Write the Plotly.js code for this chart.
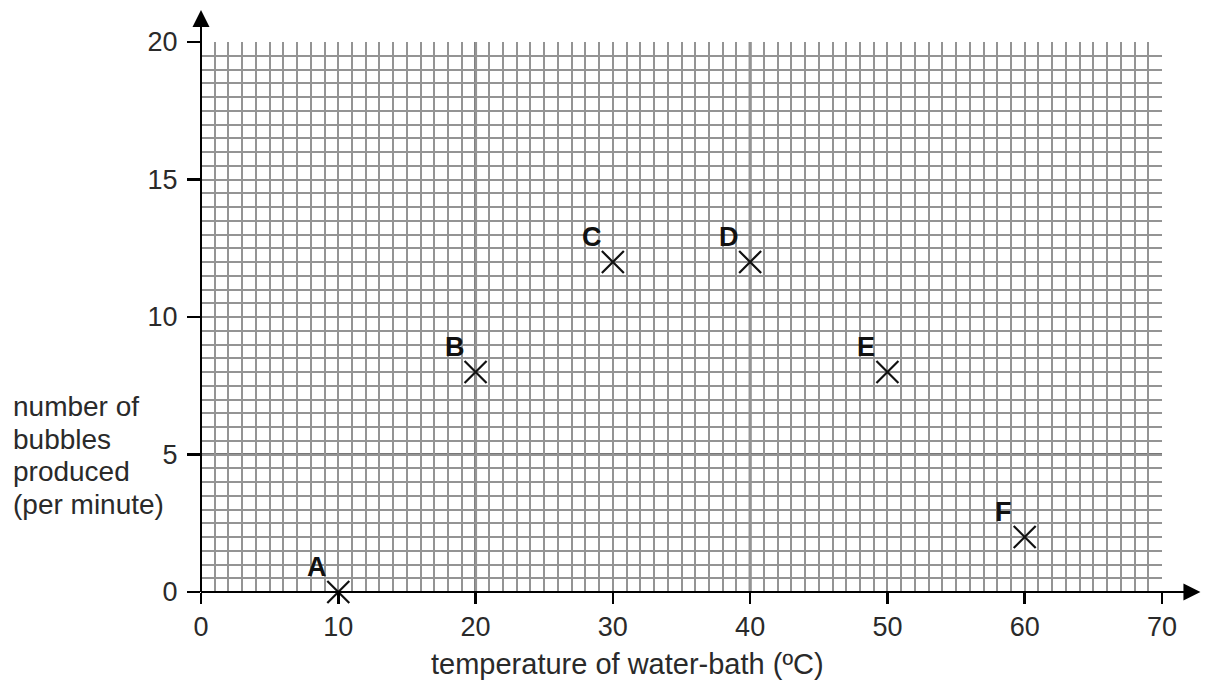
<!DOCTYPE html>
<html>
<head>
<meta charset="utf-8">
<script src="https://cdn.plot.ly/plotly-3.0.1.min.js"></script>
<style>html,body{margin:0;padding:0;background:#fff;}#chart{width:1208px;height:683px;}</style>
</head>
<body>
<div id="chart"></div>
<script>
// Data
const pointLabels = ["A", "B", "C", "D", "E", "F"];
const temperatures = [10, 20, 30, 40, 50, 60];
const bubbles = [0, 8, 12, 12, 8, 2];
const xTickVals = [0, 10, 20, 30, 40, 50, 60, 70];
const yTickVals = [0, 5, 10, 15, 20];
const xTitle = "temperature of water-bath (ºC)";
const yTitleLines = ["number of", "bubbles", "produced", "(per minute)"];
const darkXLines = [20, 40];
const darkYLines = [5];

const FONT = "Liberation Sans, Arial, sans-serif";
const GRID = "#949494";
const DARK = "#777777";
const TXT = "#2a2a2a";

const trace = {
  type: "scatter",
  mode: "markers",
  x: temperatures,
  y: bubbles,
  marker: {symbol: "x-thin-open", size: 22, color: "#111", line: {width: 2.2, color: "#111"}},
  cliponaxis: false,
  hoverinfo: "skip"
};

const shapes = [];
darkXLines.forEach(v => shapes.push({type: "line", xref: "x", yref: "paper", x0: v, x1: v, y0: 0, y1: 1, line: {color: DARK, width: 3}, layer: "below"}));
darkYLines.forEach(v => shapes.push({type: "line", xref: "paper", yref: "y", x0: 0, x1: 1, y0: v, y1: v, line: {color: DARK, width: 3}, layer: "below"}));
// extended axis lines
shapes.push({type: "line", xref: "paper", yref: "paper", x0: 0, x1: 1.035, y0: 0, y1: 0, line: {color: "#000", width: 2}});
shapes.push({type: "line", xref: "paper", yref: "paper", x0: 0, x1: 0, y0: 0, y1: 1.05, line: {color: "#000", width: 2}});

const annotations = pointLabels.map((t, i) => ({
  x: temperatures[i], y: bubbles[i], xref: "x", yref: "y",
  text: "<b>" + t + "</b>", showarrow: false,
  xshift: -21, yshift: 25,
  font: {family: FONT, size: 27, color: "#111"}
}));
annotations.push({
  xref: "paper", yref: "paper", x: 1.04, y: 0, ax: -16, ay: 0,
  showarrow: true, arrowhead: 2, arrowsize: 1.7, arrowwidth: 2, arrowcolor: "#000", text: ""
});
annotations.push({
  xref: "paper", yref: "paper", x: 0, y: 1.058, ax: 0, ay: 16,
  showarrow: true, arrowhead: 2, arrowsize: 1.7, arrowwidth: 2, arrowcolor: "#000", text: ""
});
// x title, centred where the reference has it
annotations.push({
  xref: "paper", yref: "paper", x: 0.4443, y: -0.131, xanchor: "center", yanchor: "middle",
  text: xTitle, showarrow: false,
  font: {family: FONT, size: 29, color: TXT}
});
// y title lines, placed as separate lines for tight spacing
yTitleLines.forEach((line, i) => annotations.push({
  xref: "paper", yref: "paper", x: -0.198, y: 0.337, yshift: -32.5 * i,
  xanchor: "left", yanchor: "middle", align: "left",
  text: line, showarrow: false,
  font: {family: FONT, size: 28, color: TXT}
}));

const layout = {
  width: 1208, height: 683,
  margin: {l: 201, r: 46, t: 42, b: 91},
  paper_bgcolor: "#fff", plot_bgcolor: "#fff",
  showlegend: false,
  font: {family: FONT, color: TXT},
  xaxis: {
    range: [0, 70], tickvals: xTickVals, ticks: "outside", ticklen: 11, tickwidth: 2.5, tickcolor: "#000",
    showgrid: true, gridcolor: GRID, gridwidth: 2,
    minor: {dtick: 1, showgrid: true, gridcolor: GRID, gridwidth: 2},
    showline: false, zeroline: false, fixedrange: true,
    tickfont: {family: FONT, size: 27, color: TXT}
  },
  yaxis: {
    range: [0, 20], tickvals: yTickVals, ticks: "outside", ticklen: 13, tickwidth: 2.5, tickcolor: "#000",
    ticklabelstandoff: 4,
    showgrid: true, gridcolor: GRID, gridwidth: 2,
    minor: {dtick: 0.5, showgrid: true, gridcolor: GRID, gridwidth: 2},
    showline: false, zeroline: false, fixedrange: true,
    tickfont: {family: FONT, size: 27, color: TXT}
  },
  shapes: shapes,
  annotations: annotations
};

Plotly.newPlot("chart", [trace], layout, {displayModeBar: false, staticPlot: true});
</script>
</body>
</html>
